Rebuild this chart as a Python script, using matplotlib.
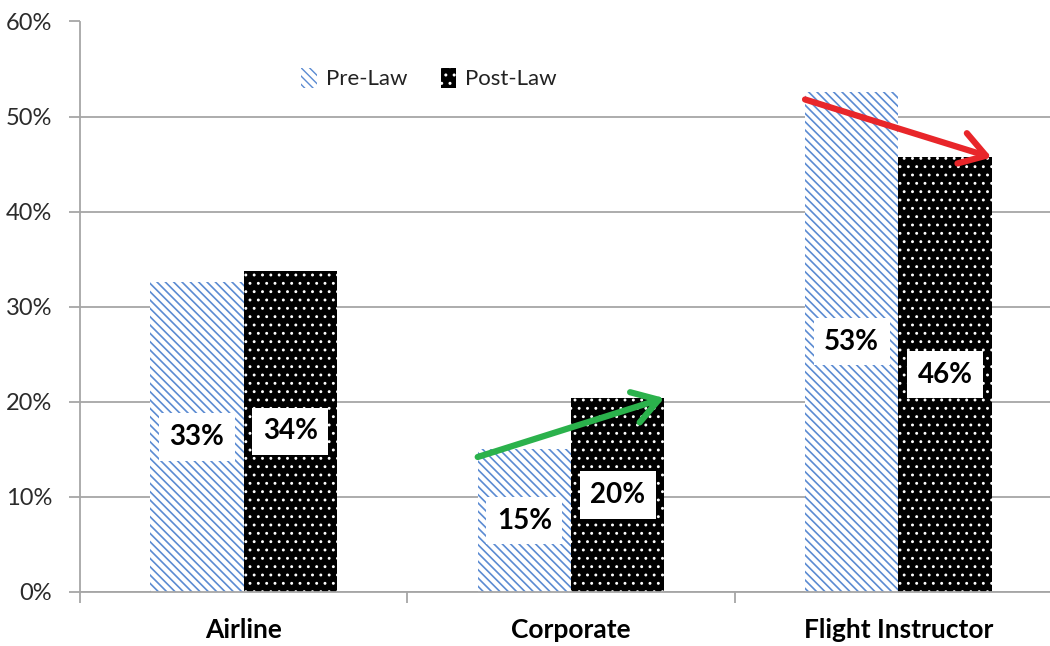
import matplotlib
matplotlib.use('Agg')
import matplotlib.pyplot as plt
import matplotlib.ticker as mtick
from matplotlib.patches import Patch
import numpy as np

plt.rcParams['font.family'] = ['Lato', 'DejaVu Sans']

# data
categories = ['Airline', 'Corporate', 'Flight Instructor']
preLaw = [0.326, 0.150, 0.526]
postLaw = [0.338, 0.204, 0.457]
seriesNames = ['Pre-Law', 'Post-Law']

gridColor = '#a6a6a6'
blue = '#5b8bd2'
w = 0.285
preHatch = '\\\\\\\\'
postHatch = '..'

fig = plt.figure(figsize=(10.5, 6.46), dpi=100)
ax = fig.add_axes([80 / 1050, 54 / 646, 982 / 1050, 570.5 / 646])

x = np.arange(len(categories))
with plt.rc_context({'hatch.linewidth': 1.2}):
    ax.bar(x - w / 2, preLaw, w, facecolor='white', edgecolor=blue,
           hatch=preHatch, linewidth=0, zorder=2)
    preHandle = Patch(facecolor='white', edgecolor=blue, hatch=preHatch, linewidth=0)
with plt.rc_context({'hatch.linewidth': 0.9}):
    ax.bar(x + w / 2, postLaw, w, facecolor='black', edgecolor='white',
           hatch=postHatch, linewidth=0, zorder=2)
    postHandle = Patch(facecolor='black', edgecolor='white', hatch=postHatch, linewidth=0)

# value labels in white boxes, centred in each bar
for i in range(len(categories)):
    for xv, v in ((x[i] - w / 2, preLaw[i]), (x[i] + w / 2, postLaw[i])):
        ax.text(xv, v / 2, '{:.0f}%'.format(v * 100), ha='center', va='center',
                fontsize=20, fontweight='bold', color='black', zorder=5,
                bbox=dict(boxstyle='square,pad=0.38', facecolor='white',
                          edgecolor='none'))

# trend arrows
arrowColors = [None, '#2bb24c', '#e8262a']
for i in (1, 2):
    ax.annotate('', xy=(x[i] + w, postLaw[i]), xytext=(x[i] - w, preLaw[i] - 0.008),
                arrowprops=dict(arrowstyle='->,head_length=0.6,head_width=0.38',
                                color=arrowColors[i], lw=4.5, mutation_scale=30,
                                shrinkA=0, shrinkB=0), zorder=6)

ax.set_xlim(-0.5, 2.5)
ax.set_ylim(0, 0.6)
ax.yaxis.set_major_locator(mtick.MultipleLocator(0.1))
ax.yaxis.set_major_formatter(mtick.PercentFormatter(1.0, decimals=0))
ax.yaxis.grid(True, color=gridColor, linewidth=1.3, zorder=0)
ax.set_axisbelow(True)

ax.set_xticks(x)
ax.set_xticklabels(categories, fontsize=19, fontweight='bold')
ax.set_xticks([-0.5, 0.5, 1.5, 2.5], minor=True)
ax.tick_params(axis='x', which='major', length=0, pad=19)
ax.tick_params(axis='x', which='minor', length=8, width=1.3, color=gridColor, direction='out')
ax.tick_params(axis='y', length=8, width=1.3, color=gridColor, labelsize=17,
               labelcolor='#2b2b2b', pad=12)

for side in ('top', 'right'):
    ax.spines[side].set_visible(False)
for side in ('left', 'bottom'):
    ax.spines[side].set_color(gridColor)
    ax.spines[side].set_linewidth(1.3)

ax.legend([preHandle, postHandle], seriesNames, loc='center left',
          bbox_to_anchor=(0.205, 0.9), ncol=2, frameon=False, fontsize=16,
          labelcolor='#222222', handlelength=0.7, handleheight=1.0,
          handletextpad=0.4, columnspacing=1.5)

fig.savefig('out.png', dpi=100)
